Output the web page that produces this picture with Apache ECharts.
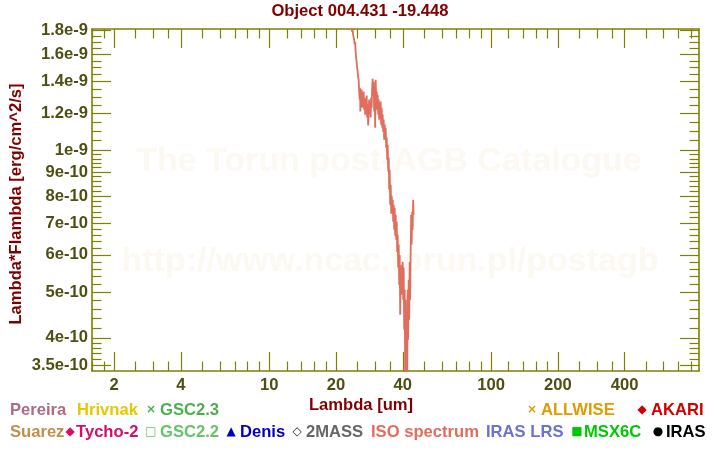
<!DOCTYPE html>
<html><head><meta charset="utf-8">
<script src="https://cdn.jsdelivr.net/npm/echarts@6/dist/echarts.min.js"></script>
<style>html,body{margin:0;padding:0;background:#fff}#c{width:720px;height:450px}</style>
</head><body><div id="c"></div>
<script>
// ---------- data ----------
const chartTitle = 'Object 004.431 -19.448';
const xAxisName = 'Lambda [um]';
const yAxisName = 'Lambda*Flambda [erg/cm^2/s]';
const xMajorTicks = [2, 4, 10, 20, 40, 100, 200, 400];
const xTickLabels = ['2', '4', '10', '20', '40', '100', '200', '400'];
const xMinorTicks = [1.6, 1.8, 2.5, 3, 3.5, 5, 6, 7, 8, 9, 12, 14, 16, 18, 25, 30, 35, 50, 60, 70, 80, 90,
  120, 140, 160, 180, 250, 300, 350, 500, 600, 700, 800];
const yMajorTicks = [1.8e-9, 1.6e-9, 1.4e-9, 1.2e-9, 1e-9, 9e-10, 8e-10, 7e-10, 6e-10, 5e-10, 4e-10, 3.5e-10];
const yTickLabels = ['1.8e-9', '1.6e-9', '1.4e-9', '1.2e-9', '1e-9', '9e-10', '8e-10', '7e-10', '6e-10', '5e-10', '4e-10', '3.5e-10'];
const yMinorTicks = [1.75e-9, 1.7e-9, 1.65e-9, 1.55e-9, 1.5e-9, 1.45e-9, 1.35e-9, 1.3e-9, 1.25e-9, 1.15e-9, 1.1e-9, 1.05e-9,
  9.8e-10, 9.6e-10, 9.4e-10, 9.2e-10, 8.8e-10, 8.6e-10, 8.4e-10, 8.2e-10, 7.8e-10, 7.6e-10, 7.4e-10, 7.2e-10,
  6.8e-10, 6.6e-10, 6.4e-10, 6.2e-10, 5.8e-10, 5.6e-10, 5.4e-10, 5.2e-10, 4.8e-10, 4.6e-10, 4.4e-10, 4.2e-10,
  3.9e-10, 3.8e-10, 3.7e-10, 3.6e-10];
const xRange = [1.59, 865];
const yRange = [3.4e-10, 1.812e-9];

// ISO spectrum (wavelength in um, flux in units of 1e-10 erg/cm^2/s)
const isoWavelength = [23.04, 23.4, 23.64, 23.76, 23.88, 24.02, 24.14, 24.27, 24.4, 24.53, 24.65, 24.78, 24.91, 25.04, 25.17, 25.3,
  25.44, 25.57, 25.65, 25.75, 25.83, 25.97, 26.1, 26.24, 26.37, 26.51, 26.65, 26.78, 26.93, 27.07, 27.21, 27.35, 27.5, 27.64, 27.78, 27.93, 28.07, 28.22, 28.37, 28.52, 28.66,
  28.81, 28.96, 29.11, 29.26, 29.42, 29.57, 29.72, 29.88, 30.03, 30.19, 30.35, 30.51, 30.67, 30.83, 30.99, 31.15, 31.31, 31.47, 31.64, 31.8,
  31.97, 32.13, 32.3, 32.47, 32.64, 32.81, 32.98, 33.15, 33.33,
  33.50, 33.67, 33.85, 34.02, 34.20, 34.38, 34.56, 34.74, 34.92, 35.10, 35.29, 35.47, 35.65, 35.84, 36.03, 36.21, 36.40, 36.59, 36.78, 36.97,
  37.16, 37.36, 37.55, 37.75, 37.94, 38.14, 38.34, 38.54, 38.74, 38.94, 39.14, 39.34, 39.55, 39.75, 39.96, 40.17, 40.37, 40.58, 40.80, 41.01,
  41.21, 41.42, 41.64, 41.85, 42.07, 42.29, 42.51, 42.73, 42.96, 43.18, 43.41, 43.63, 43.85, 44.08, 44.31, 44.54, 44.77];
const isoFluxE10 = [18.97, 18.24, 17.9, 18.15, 17.63, 17.8, 17.2, 16.8, 17.0, 16.2, 15.75, 15.37, 15.0, 14.7, 14.3, 14.14,
  13.34, 12.83, 13.6, 12.1, 13.14, 12.57, 13.47, 12.33, 13.08, 12.7, 13.34, 12.21, 12.95, 11.92, 12.83, 12.33, 13.08, 11.75, 12.57, 11.3, 12.21, 12.83, 11.98, 12.51, 11.75,
  12.95, 12.33, 13.6, 14.2, 13.08, 14.0, 12.1, 13.47, 11.18, 14.14, 12.83, 13.34, 12.21, 13.14, 11.92, 12.83, 11.63, 12.51, 11.75, 12.7,
  11.35, 12.33, 11.18, 11.92, 10.96, 11.63, 10.54, 11.35, 10.64,
  11.18, 10.14, 10.65, 9.56, 10.29, 9.02, 9.65, 8.26, 9.10, 7.67, 8.46, 7.34, 8.02, 7.41, 7.86, 7.06, 7.67, 6.79, 7.56, 6.59,
  7.30, 6.46, 7.06, 6.09, 6.62, 5.64, 6.31, 5.18, 6.00, 4.48, 5.64, 4.94, 5.72, 5.01, 5.80, 4.82, 5.64, 4.16, 5.06, 3.26,
  4.82, 3.10, 4.37, 3.18, 5.06, 3.96, 5.31, 4.37, 5.80, 4.82, 6.15, 7.30, 6.31, 7.41, 6.79, 7.86, 7.30];

const legendRow1 = ['Pereira', 'Hrivnak', 'GSC2.3', 'ALLWISE', 'AKARI'];
const legendRow2 = ['Suarez', 'Tycho-2', 'GSC2.2', 'Denis', '2MASS', 'ISO spectrum', 'IRAS LRS', 'MSX6C', 'IRAS'];
const watermarkLines = ['The Torun post-AGB Catalogue', 'http://www.ncac.torun.pl/postagb'];

// ---------- styles ----------
const FONT = "'Liberation Sans', Arial, sans-serif";
const FS = 16.6;
const AXIS_COLOR = '#808000';
const LABEL_COLOR = '#4f4f14';
const NAME_COLOR = '#800000';
const ISO_COLOR = '#e06e5c';

const legendStyle = {
  'Pereira':      {x: 10,  row: 0, color: '#b06a82'},
  'Hrivnak':      {x: 77,  row: 0, color: '#e6c800'},
  'GSC2.3':       {x: 160, row: 0, color: '#4caf50', sym: '\u00d7', sx: 151, scolor: '#4caf50'},
  'ALLWISE':      {x: 541, row: 0, color: '#e09b00', sym: '\u00d7', sx: 532, scolor: '#e09b00'},
  'AKARI':        {x: 651, row: 0, color: '#d00000', sym: '\u25c6', sx: 642, scolor: '#d00000'},
  'Suarez':       {x: 10,  row: 1, color: '#c0904a'},
  'Tycho-2':      {x: 76,  row: 1, color: '#d0106a', sym: '\u25c6', sx: 70, scolor: '#d0106a'},
  'GSC2.2':       {x: 160, row: 1, color: '#66c466', sym: '\u25a1', sx: 151, scolor: '#66c466'},
  'Denis':        {x: 240, row: 1, color: '#0000c0', sym: '\u25b2', sx: 231, scolor: '#0000c0'},
  '2MASS':        {x: 306, row: 1, color: '#666666', sym: '\u25c7', sx: 297, scolor: '#333333'},
  'ISO spectrum': {x: 371, row: 1, color: ISO_COLOR},
  'IRAS LRS':     {x: 486, row: 1, color: '#6a72d6'},
  'MSX6C':        {x: 584, row: 1, color: '#00c800', sym: '\u25a0', sx: 577, scolor: '#00c800'},
  'IRAS':         {x: 666, row: 1, color: '#000000', sym: '\u25cf', sx: 658, scolor: '#000000'}
};
const rowY = [410, 432];

function findLabel(v, vals, labels) {
  for (let i = 0; i < vals.length; i++) if (Math.abs(vals[i] - v) <= Math.abs(vals[i]) * 1e-6) return labels[i];
  return '';
}

function mkAxis(kind, pos, ticks, len, showLabels, showLine) {
  const isX = kind === 'x';
  const ax = {
    type: 'log', logBase: 10, position: pos, gridIndex: 0,
    min: isX ? xRange[0] : yRange[0], max: isX ? xRange[1] : yRange[1],
    axisLine: {show: showLine, onZero: false, lineStyle: {color: AXIS_COLOR, width: 1.6}},
    axisTick: {show: true, inside: true, length: len, customValues: ticks, lineStyle: {color: AXIS_COLOR, width: 1.2}},
    axisLabel: {show: false},
    splitLine: {show: false}, minorTick: {show: false}, minorSplitLine: {show: false}
  };
  if (showLabels) {
    ax.axisLabel = {
      show: true, customValues: ticks, color: LABEL_COLOR, fontFamily: FONT, fontWeight: 'bold', fontSize: FS,
      margin: isX ? 6 : 4,
      formatter: isX ? (v => findLabel(v, xMajorTicks, xTickLabels)) : (v => findLabel(v, yMajorTicks, yTickLabels))
    };
  }
  return ax;
}

const graphics = [];
graphics.push({type: 'text', z: 0, silent: true, x: 389, y: 162,
  style: {text: watermarkLines[0], fill: '#fcf8f2', font: "bold 34px " + FONT, textAlign: 'center', textVerticalAlign: 'middle'}});
graphics.push({type: 'text', z: 0, silent: true, x: 390, y: 262,
  style: {text: watermarkLines[1], fill: '#fcf8f2', font: "bold 34px " + FONT, textAlign: 'center', textVerticalAlign: 'middle'}});
graphics.push({type: 'text', x: 360, y: 11,
  style: {text: chartTitle, fill: NAME_COLOR, font: "bold " + FS + "px " + FONT, textAlign: 'center', textVerticalAlign: 'middle'}});
graphics.push({type: 'text', x: 361, y: 405,
  style: {text: xAxisName, fill: NAME_COLOR, font: "bold " + FS + "px " + FONT, textAlign: 'center', textVerticalAlign: 'middle'}});
graphics.push({type: 'text', x: 16, y: 204, rotation: Math.PI / 2,
  style: {text: yAxisName, fill: NAME_COLOR, font: "bold " + FS + "px " + FONT, textAlign: 'center', textVerticalAlign: 'middle'}});
legendRow1.concat(legendRow2).forEach(name => {
  const s = legendStyle[name];
  const y = rowY[s.row];
  if (s.sym) {
    graphics.push({type: 'text', x: s.sx, y: y,
      style: {text: s.sym, fill: s.scolor, font: "bold 12px 'DejaVu Sans', sans-serif", textAlign: 'center', textVerticalAlign: 'middle'}});
  }
  graphics.push({type: 'text', x: s.x, y: y,
    style: {text: name, fill: s.color, font: "bold " + FS + "px " + FONT, textAlign: 'left', textVerticalAlign: 'middle'}});
});

const isoData = isoWavelength.map((w, i) => [w, isoFluxE10[i] * 1e-10]);

const chart = echarts.init(document.getElementById('c'), null, {renderer: 'canvas'});
chart.setOption({
  animation: false,
  backgroundColor: '#ffffff',
  grid: {left: 92, right: 21, top: 29, bottom: 79, containLabel: false},
  xAxis: [
    mkAxis('x', 'bottom', xMajorTicks, 19, true, true),
    mkAxis('x', 'bottom', xMinorTicks, 9.5, false, false),
    mkAxis('x', 'top', xMajorTicks, 19, false, true),
    mkAxis('x', 'top', xMinorTicks, 9.5, false, false)
  ],
  yAxis: [
    mkAxis('y', 'left', yMajorTicks, 19, true, true),
    mkAxis('y', 'left', yMinorTicks, 9.5, false, false),
    mkAxis('y', 'right', yMajorTicks, 19, false, true),
    mkAxis('y', 'right', yMinorTicks, 9.5, false, false)
  ],
  graphic: graphics,
  series: [{
    name: 'ISO spectrum', type: 'line', xAxisIndex: 0, yAxisIndex: 0,
    data: isoData, showSymbol: false, symbol: 'none', clip: true, z: 5,
    lineStyle: {color: ISO_COLOR, width: 1.8}
  }]
});
</script></body></html>
